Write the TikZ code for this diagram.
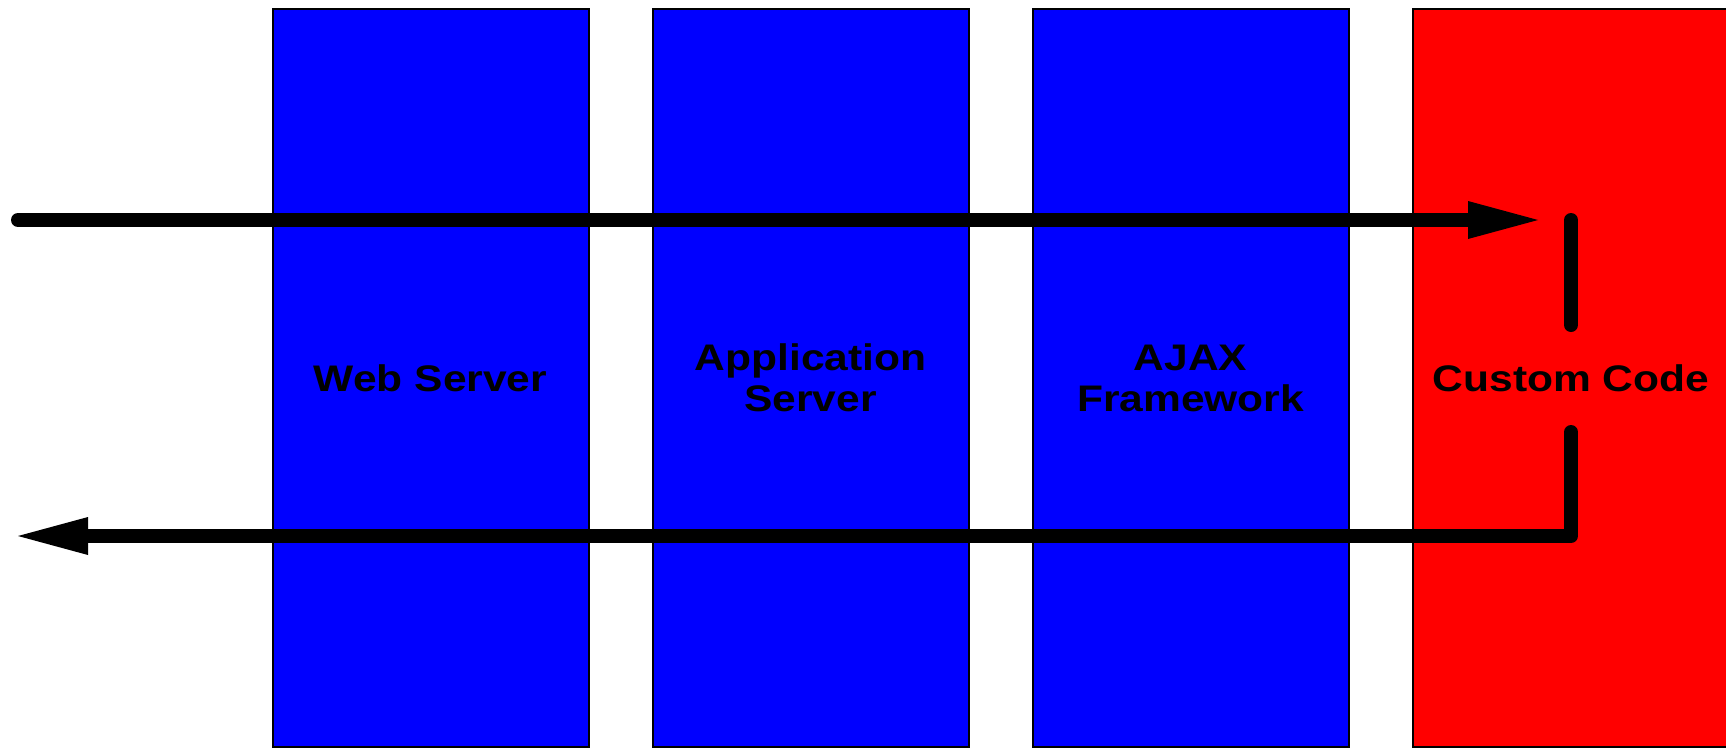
\documentclass[tikz,border=0pt]{standalone}
\usepackage{fontspec}
\newfontfamily\boxfont[FakeStretch=1.15]{Liberation Sans}
\usetikzlibrary{arrows.meta}
\tikzset{
  layer/.style={draw=black, line width=2pt, anchor=north west, inner sep=0pt,
    minimum width=316pt, minimum height=738pt, align=center,
    font=\boxfont\bfseries\fontsize{37}{41}\selectfont},
  stack/.style={layer, fill=blue},
  custom/.style={layer, fill=red},
  flow/.style={line width=14pt, line cap=round, line join=round,
    -{Triangle[length=70pt,width=38pt,line width=0pt]}},
  hook/.style={line width=14pt, line cap=round, line join=round}
}
\begin{document}
\begin{tikzpicture}[x=1pt,y=-1pt]
  \useasboundingbox (0,0) rectangle (1726,747);
  % the four layers of the request path
  \node[stack]  (web)    at (271.5,8)  {Web Server};
  \node[stack]  (app)    at (651.5,8)  {Application\\Server};
  \node[stack]  (ajax)   at (1031.5,8) {AJAX\\Framework};
  \node[custom] (code)   at (1412,8)   {Custom Code};
  % end points of the request and response paths
  \coordinate (reqstart) at (18,220);
  \coordinate (reqend)   at (1538,220);
  \coordinate (intop)    at (1571,220);
  \coordinate (inbot)    at (1571,325);
  \coordinate (outtop)   at (1571,432);
  \coordinate (outbend)  at (1571,536);
  \coordinate (resend)   at (18,536);
  % request goes in, response comes back out
  \draw[flow] (reqstart) -- (reqend);
  \draw[hook] (intop) -- (inbot);
  \draw[flow] (outtop) -- (outbend) -- (resend);
\end{tikzpicture}
\end{document}
